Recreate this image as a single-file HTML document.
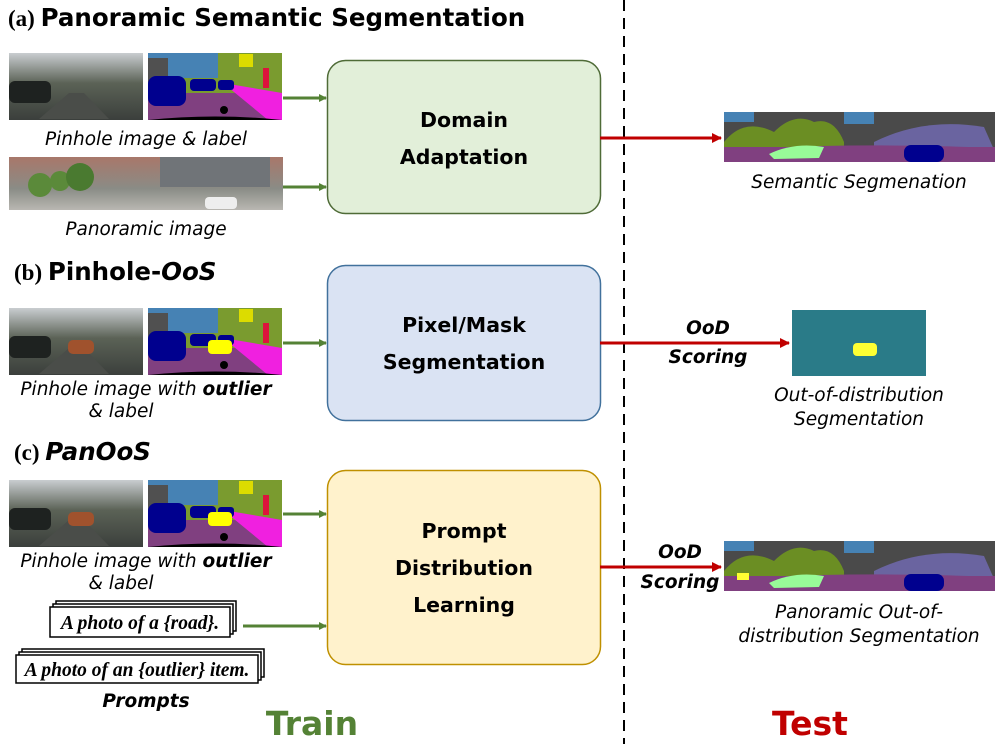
<!DOCTYPE html>
<html><head><style>
html,body{margin:0;padding:0;background:#fff;}
svg{display:block;}
.h{font-family:"DejaVu Sans",sans-serif;font-weight:bold;font-size:24.5px;}
.hs{font-family:"Liberation Serif",serif;font-weight:bold;font-size:23px;}
.cap{font-family:"DejaVu Sans",sans-serif;font-style:italic;font-size:18.5px;}
.bx{font-family:"DejaVu Sans",sans-serif;font-weight:bold;font-size:20.5px;}
.pr{font-family:"Liberation Serif",serif;font-style:italic;font-weight:bold;font-size:19.5px;}
</style></head><body>
<svg width="996" height="744" viewBox="0 0 996 744" xmlns="http://www.w3.org/2000/svg">
<defs>
<marker id="ga" markerWidth="8" markerHeight="8" refX="7" refY="4" orient="auto" markerUnits="userSpaceOnUse"><path d="M0,0 L8,4 L0,8 z" fill="#548235"/></marker>
<marker id="ra" markerWidth="10" markerHeight="10" refX="9" refY="5" orient="auto" markerUnits="userSpaceOnUse"><path d="M0,0 L10,5 L0,10 z" fill="#c00000"/></marker>
<linearGradient id="street" x1="0" y1="0" x2="0" y2="1"><stop offset="0" stop-color="#c9cdd0"/><stop offset="0.45" stop-color="#5b6256"/><stop offset="1" stop-color="#3b3f3c"/></linearGradient>
<linearGradient id="pano" x1="0" y1="0" x2="0" y2="1"><stop offset="0" stop-color="#a8776a"/><stop offset="0.6" stop-color="#8a8c86"/><stop offset="1" stop-color="#b9b7b2"/></linearGradient>
<g id="pin"><rect width="134" height="67" fill="url(#street)"/><rect x="0" y="28" width="42" height="22" rx="6" fill="#1e2220"/><polygon points="30,66 60,40 75,40 100,66" fill="#4a4d49"/></g>
<g id="lab"><rect width="134" height="67" fill="#7a9b2f"/><rect width="70" height="25" fill="#4682b4"/><rect x="0" y="5" width="20" height="35" fill="#505050"/><polygon points="0,40 134,40 134,67 0,67" fill="#804080"/><polygon points="75,30 134,40 134,67 120,67" fill="#f020e0"/><rect x="0" y="23" width="38" height="30" rx="8" fill="#00008e"/><rect x="42" y="26" width="26" height="12" rx="4" fill="#00008e"/><rect x="70" y="27" width="16" height="10" rx="3" fill="#00008e"/><rect x="115" y="15" width="6" height="20" fill="#dc143c"/><rect x="91" y="1" width="14" height="13" fill="#dcdc00"/><circle cx="76" cy="57" r="4" fill="#000"/><path d="M0,67 Q67,60 134,67 z" fill="#000"/></g>
<g id="seg"><rect width="271" height="50" fill="#4a4a4a"/><rect x="0" y="0" width="30" height="10" fill="#4682b4"/><rect x="120" y="0" width="30" height="12" fill="#4682b4"/><path d="M150,30 Q200,5 260,15 L271,40 L150,45 z" fill="#6a64a0"/><path d="M0,30 Q20,5 50,20 Q70,0 90,10 Q110,5 120,30 L120,35 L0,35 z" fill="#6b8e23"/><rect x="0" y="35" width="271" height="15" fill="#804080"/><path d="M0,38 Q135,30 271,36 L271,50 L0,50 z" fill="#804080"/><path d="M45,42 Q70,30 100,35 L95,46 L50,47 z" fill="#98fb98"/><rect x="180" y="33" width="40" height="17" rx="7" fill="#00008e"/></g>
</defs>
<line x1="624" y1="0" x2="624" y2="744" stroke="#000" stroke-width="2" stroke-dasharray="11,7"/>
<!-- (a) -->
<text x="8" y="26"><tspan class="hs">(a) </tspan><tspan class="h">Panoramic Semantic Segmentation</tspan></text>
<use href="#pin" x="9" y="53"/><use href="#lab" x="148" y="53"/>
<text class="cap" x="146" y="145" text-anchor="middle">Pinhole image &amp; label</text>
<rect x="9" y="157" width="274" height="53" fill="url(#pano)"/>
<rect x="160" y="157" width="110" height="30" fill="#707478"/><rect x="205" y="197" width="32" height="12" rx="4" fill="#eee"/>
<circle cx="40" cy="185" r="12" fill="#5b8a3a"/><circle cx="60" cy="181" r="10" fill="#5b8a3a"/><circle cx="80" cy="177" r="14" fill="#4a7a30"/>
<text class="cap" x="146" y="235" text-anchor="middle">Panoramic image</text>
<line x1="283" y1="98" x2="326" y2="98" stroke="#548235" stroke-width="3" marker-end="url(#ga)"/>
<line x1="283" y1="187" x2="326" y2="187" stroke="#548235" stroke-width="3" marker-end="url(#ga)"/>
<rect x="327.5" y="60.5" width="273" height="153" rx="18" fill="#e2efd9" stroke="#4f6b37" stroke-width="1.5"/>
<text class="bx" x="464" y="127" text-anchor="middle">Domain</text>
<text class="bx" x="464" y="164" text-anchor="middle">Adaptation</text>
<line x1="600" y1="138" x2="721" y2="138" stroke="#c00000" stroke-width="3" marker-end="url(#ra)"/>
<use href="#seg" x="724" y="112"/>
<text class="cap" x="859" y="188" text-anchor="middle">Semantic Segmenation</text>
<!-- (b) -->
<text x="14" y="280"><tspan class="hs">(b) </tspan><tspan class="h">Pinhole-<tspan font-style="italic">OoS</tspan></tspan></text>
<use href="#pin" x="9" y="308"/><use href="#lab" x="148" y="308"/>
<rect x="68" y="340" width="26" height="14" rx="5" fill="#a0522d"/>
<rect x="208" y="340" width="24" height="14" rx="4" fill="#ffff00"/>
<text class="cap" x="146" y="395" text-anchor="middle">Pinhole image with <tspan font-weight="bold">outlier</tspan></text>
<text class="cap" x="121" y="417" text-anchor="middle">&amp; label</text>
<line x1="283" y1="343" x2="326" y2="343" stroke="#548235" stroke-width="3" marker-end="url(#ga)"/>
<rect x="327.5" y="265.5" width="273" height="155" rx="18" fill="#dae3f3" stroke="#41719c" stroke-width="1.5"/>
<text class="bx" x="464" y="332" text-anchor="middle">Pixel/Mask</text>
<text class="bx" x="464" y="369" text-anchor="middle">Segmentation</text>
<line x1="600" y1="343" x2="789" y2="343" stroke="#c00000" stroke-width="3" marker-end="url(#ra)"/>
<text class="cap" x="708" y="334" text-anchor="middle" font-weight="bold">OoD</text>
<text class="cap" x="708" y="363" text-anchor="middle" font-weight="bold">Scoring</text>
<rect x="792" y="310" width="134" height="66" fill="#2a7b88"/>
<rect x="853" y="343" width="24" height="13" rx="4" fill="#ffff33"/>
<text class="cap" x="859" y="401" text-anchor="middle">Out-of-distribution</text>
<text class="cap" x="859" y="425" text-anchor="middle">Segmentation</text>
<!-- (c) -->
<text x="14" y="460"><tspan class="hs">(c) </tspan><tspan class="h" font-style="italic">PanOoS</tspan></text>
<use href="#pin" x="9" y="480"/><use href="#lab" x="148" y="480"/>
<rect x="68" y="512" width="26" height="14" rx="5" fill="#a0522d"/>
<rect x="208" y="512" width="24" height="14" rx="4" fill="#ffff00"/>
<text class="cap" x="146" y="567" text-anchor="middle">Pinhole image with <tspan font-weight="bold">outlier</tspan></text>
<text class="cap" x="121" y="589" text-anchor="middle">&amp; label</text>
<line x1="283" y1="514" x2="326" y2="514" stroke="#548235" stroke-width="3" marker-end="url(#ga)"/>
<g fill="#fff" stroke="#000" stroke-width="1.5">
<rect x="56" y="601" width="180" height="30"/><rect x="53" y="604" width="180" height="30"/><rect x="50" y="607" width="180" height="30"/>
<rect x="22" y="649" width="242" height="28"/><rect x="19" y="652" width="242" height="28"/><rect x="16" y="655" width="242" height="28"/>
</g>
<text class="pr" x="140" y="629" text-anchor="middle">A photo of a {road}.</text>
<text class="pr" x="137" y="676" text-anchor="middle">A photo of an {outlier} item.</text>
<text class="cap" x="146" y="707" text-anchor="middle" font-weight="bold">Prompts</text>
<line x1="243" y1="626" x2="326" y2="626" stroke="#548235" stroke-width="3" marker-end="url(#ga)"/>
<rect x="327.5" y="470.5" width="273" height="194" rx="18" fill="#fff2cc" stroke="#bf9000" stroke-width="1.5"/>
<text class="bx" x="464" y="538" text-anchor="middle">Prompt</text>
<text class="bx" x="464" y="575" text-anchor="middle">Distribution</text>
<text class="bx" x="464" y="612" text-anchor="middle">Learning</text>
<line x1="600" y1="567" x2="721" y2="567" stroke="#c00000" stroke-width="3" marker-end="url(#ra)"/>
<text class="cap" x="680" y="558" text-anchor="middle" font-weight="bold">OoD</text>
<text class="cap" x="680" y="588" text-anchor="middle" font-weight="bold">Scoring</text>
<use href="#seg" x="724" y="541"/>
<rect x="737" y="573" width="12" height="7" fill="#ffff33"/>
<text class="cap" x="859" y="618" text-anchor="middle">Panoramic Out-of-</text>
<text class="cap" x="859" y="642" text-anchor="middle">distribution Segmentation</text>
<text x="312" y="735" text-anchor="middle" font-family="DejaVu Sans, sans-serif" font-weight="bold" font-size="33" fill="#548235">Train</text>
<text x="810" y="735" text-anchor="middle" font-family="DejaVu Sans, sans-serif" font-weight="bold" font-size="33" fill="#c00000">Test</text>
</svg>
</body></html>
